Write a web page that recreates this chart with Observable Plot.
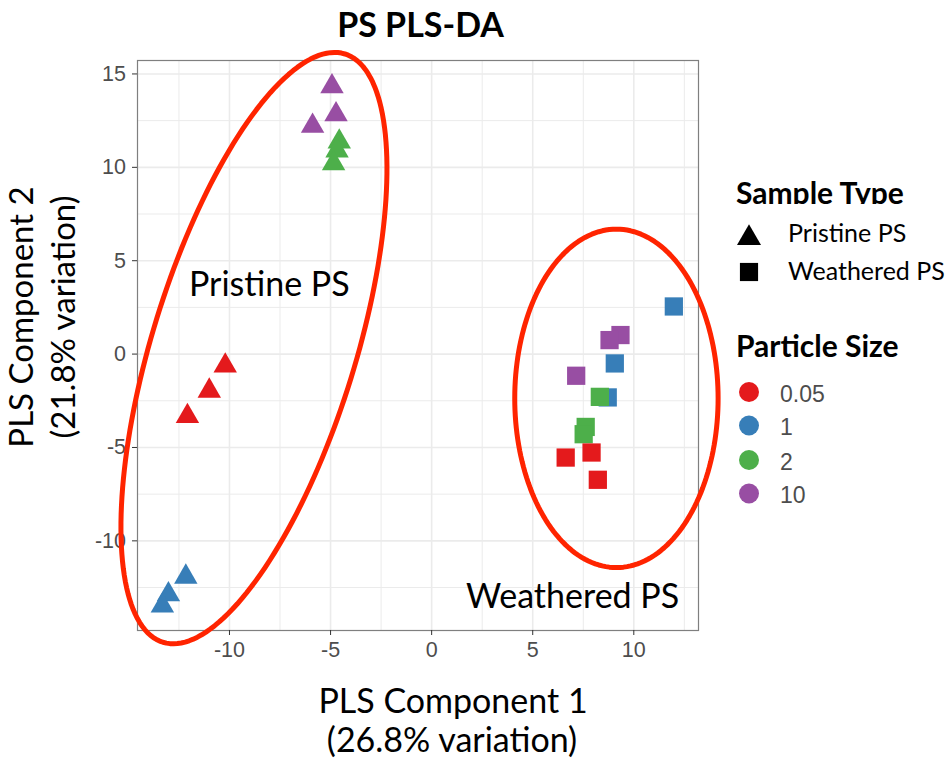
<!DOCTYPE html>
<html>
<head>
<meta charset="utf-8">
<script src="https://cdn.jsdelivr.net/npm/d3@7"></script>
<script src="https://cdn.jsdelivr.net/npm/@observablehq/plot@0.6"></script>
<style>
  html, body { margin: 0; padding: 0; background: #fff; }
  #wrap { position: relative; width: 947px; height: 764px; overflow: hidden; }
  #wrap > svg { position: absolute; left: 0; top: 0; }
</style>
</head>
<body>
<div id="wrap"></div>
<script>
// ---- data ----
const particleSizes = ["0.05", "1", "2", "10"];
const sizeColors = ["#E41A1C", "#377EB8", "#4DAF4A", "#984EA3"];
const sampleTypes = ["Pristine PS", "Weathered PS"];

// Pristine PS (triangles)
const pristineSize = ["1", "1", "1", "2", "2", "2", "0.05", "0.05", "0.05", "10", "10", "10"];
const pristineX = [-12.16, -13.02, -13.32, -4.57, -4.68, -4.85, -10.21, -11.0, -12.08, -4.93, -4.73, -5.89];
const pristineY = [-11.93, -12.87, -13.48, 11.37, 10.89, 10.21, -0.63, -1.97, -3.33, 14.33, 12.83, 12.21];

// Weathered PS (squares)
const weatheredSize = ["1", "1", "1", "2", "2", "2", "0.05", "0.05", "0.05", "10", "10", "10"];
const weatheredX = [11.98, 9.06, 8.71, 8.32, 7.62, 7.52, 6.63, 7.91, 8.22, 9.34, 8.80, 7.15];
const weatheredY = [2.55, -0.5, -2.32, -2.29, -3.9, -4.29, -5.54, -5.27, -6.73, 1.02, 0.75, -1.16];

const xTicks = [-10, -5, 0, 5, 10];
const yTicks = [-10, -5, 0, 5, 10, 15];
const xMinor = [-12.5, -7.5, -2.5, 2.5, 7.5, 12.5];
const yMinor = [-12.5, -7.5, -2.5, 2.5, 7.5, 12.5];

// group annotations (data units)
const groupLabels = ["Pristine PS", "Weathered PS"];
const groupLabelX = [-8.03, 6.97];
const groupLabelY = [3.12, -13.57];

// ellipse annotations in data units: centre and two conjugate semi-axis vectors
const ellipseCx = [-8.79, 9.14];
const ellipseCy = [0.32, -2.37];
const ellipseAx = [4.50, 0];
const ellipseAy = [15.75, 9.06];
const ellipseBx = [4.80, 5.03];
const ellipseBy = [-1.61, 0];

// ---- tables ----
const pristine = pristineX.map((x, i) => ({x, y: pristineY[i], size: pristineSize[i], type: sampleTypes[0]}));
const weathered = weatheredX.map((x, i) => ({x, y: weatheredY[i], size: weatheredSize[i], type: sampleTypes[1]}));
const ellipses = [];
ellipseCx.forEach((cx, k) => {
  d3.range(0, 361, 2).forEach(deg => {
    const t = deg * Math.PI / 180;
    ellipses.push({
      id: k,
      x: cx + ellipseAx[k] * Math.cos(t) + ellipseBx[k] * Math.sin(t),
      y: ellipseCy[k] + ellipseAy[k] * Math.cos(t) + ellipseBy[k] * Math.sin(t)
    });
  });
});
const labels = groupLabels.map((t, i) => ({t, x: groupLabelX[i], y: groupLabelY[i]}));
const fmt = d => String(d);

const W = 947, H = 764;
const chart = Plot.plot({
  width: W,
  height: H,
  marginLeft: 137,
  marginRight: 249,
  marginTop: 60,
  marginBottom: 134,
  x: {domain: [-14.55, 13.2], label: null},
  y: {domain: [-14.8, 15.72], label: null},
  color: {domain: particleSizes, range: sizeColors},
  style: {background: "transparent", overflow: "visible", fontFamily: "'Liberation Sans', Arial, sans-serif"},
  marks: [
    Plot.gridX(xMinor, {stroke: "#EBEBEB", strokeOpacity: 1, strokeWidth: 1}),
    Plot.gridY(yMinor, {stroke: "#EBEBEB", strokeOpacity: 1, strokeWidth: 1}),
    Plot.gridX(xTicks, {stroke: "#EBEBEB", strokeOpacity: 1, strokeWidth: 1.6}),
    Plot.gridY(yTicks, {stroke: "#EBEBEB", strokeOpacity: 1, strokeWidth: 1.6}),
    Plot.frame({stroke: "#7f7f7f", strokeWidth: 1.2}),
    Plot.axisX(xTicks, {tickSize: 5, tickPadding: 6.5, tickFormat: fmt, stroke: "#333333", fill: "#4D4D4D", fontSize: 21.5, label: null}),
    Plot.axisY(yTicks, {tickSize: 5, tickPadding: 6.5, tickFormat: fmt, stroke: "#333333", fill: "#4D4D4D", fontSize: 21.5, label: null}),
    Plot.dot(pristine, {x: "x", y: "y", fill: "size", symbol: "triangle", r: 8.7}),
    Plot.dot(weathered, {x: "x", y: "y", fill: "size", symbol: "square", r: 10.3}),
    Plot.line(ellipses, {x: "x", y: "y", z: "id", stroke: "#FF2400", strokeWidth: 5, curve: "linear"}),
    Plot.text(labels, {x: "x", y: "y", text: "t", lineAnchor: "bottom", fill: "#000", fontSize: 34, fontFamily: "Lato"})
  ]
});
const wrap = document.getElementById("wrap");
wrap.appendChild(chart);

// ---- titles and legend overlay ----
const ov = d3.select(wrap).append("svg")
  .attr("width", W).attr("height", H)
  .attr("font-family", "Lato, sans-serif")
  .style("pointer-events", "none");

ov.append("text").attr("x", 420.5).attr("y", 37).attr("text-anchor", "middle")
  .attr("font-weight", "bold").attr("font-size", 34).text("PS PLS-DA");

const xl = ov.append("text").attr("text-anchor", "middle").attr("font-size", 34);
xl.append("tspan").attr("x", 453).attr("y", 713).text("PLS Component 1");
xl.append("tspan").attr("x", 452).attr("y", 751.5).text("(26.8% variation)");

const yl = ov.append("g").attr("transform", "translate(0,317) rotate(-90)");
yl.append("text").attr("x", 0).attr("y", 32.5).attr("text-anchor", "middle").attr("font-size", 33).text("PLS Component 2");
yl.append("text").attr("x", 0).attr("y", 75).attr("text-anchor", "middle").attr("font-size", 33).text("(21.8% variation)");

// legend: sample type
ov.append("clipPath").attr("id", "clipST").append("rect").attr("x", 0).attr("y", 0).attr("width", W).attr("height", 204);
ov.append("text").attr("x", 736).attr("y", 203.5).attr("font-weight", "bold").attr("font-size", 30)
  .attr("clip-path", "url(#clipST)").text("Sample Type");
const symPath = [d3.symbol(d3.symbolTriangle, 250)(), d3.symbol(d3.symbolSquare, 330)()];
const stY = [238, 272];
const stTextY = [242, 280];
sampleTypes.forEach((t, i) => {
  ov.append("path").attr("d", symPath[i]).attr("transform", `translate(749,${stY[i]})`).attr("fill", "#000");
  ov.append("text").attr("x", 788).attr("y", stTextY[i]).attr("font-size", 25).text(t);
});

// legend: particle size
ov.append("text").attr("x", 736).attr("y", 357).attr("font-weight", "bold").attr("font-size", 30).text("Particle Size");
const psY = [392, 425.5, 460, 493.5];
particleSizes.forEach((s, i) => {
  ov.append("circle").attr("cx", 749).attr("cy", psY[i]).attr("r", 10).attr("fill", sizeColors[i]);
  ov.append("text").attr("x", 780).attr("y", psY[i] + 9.5).attr("font-family", "'Liberation Sans', Arial, sans-serif")
    .attr("font-size", 23).attr("fill", "#4D4D4D").text(s);
});
</script>
</body>
</html>
